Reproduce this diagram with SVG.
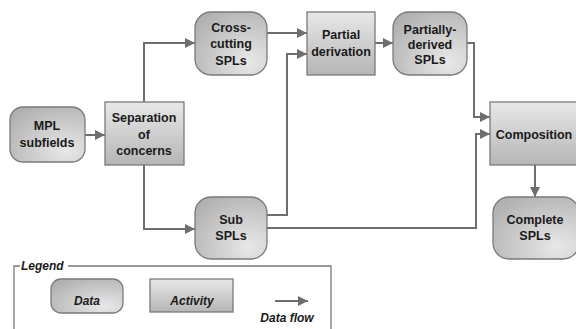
<svg xmlns="http://www.w3.org/2000/svg" width="576" height="329" viewBox="0 0 576 329">
<style>
.data{stroke:#7a7a7a;stroke-width:1.3;fill:url(#gData)}
.act{stroke:#7a7a7a;stroke-width:1.3;fill:url(#gAct)}
.t{font-family:"Liberation Sans",Arial,sans-serif;font-weight:bold;font-size:12.5px;fill:#1a1a1a;text-anchor:middle}
.lt{font-family:"Liberation Sans",Arial,sans-serif;font-weight:bold;font-style:italic;font-size:12px;fill:#1a1a1a}
.c{fill:none;stroke:#6e6e6e;stroke-width:2}
</style>
<defs>
<radialGradient id="gData" cx="0.75" cy="0.8" r="0.95">
<stop offset="0" stop-color="#e8e8e8"/>
<stop offset="1" stop-color="#b0b0b0"/>
</radialGradient>
<linearGradient id="gAct" x1="0" y1="0" x2="0" y2="1">
<stop offset="0" stop-color="#e8e8e8"/>
<stop offset="1" stop-color="#b5b5b5"/>
</linearGradient>
<marker id="ah" markerUnits="userSpaceOnUse" markerWidth="10" markerHeight="10" viewBox="0 0 10 10" refX="10" refY="5" orient="auto">
<path d="M0,0 L10,5 L0,10 Z" fill="#6e6e6e"/>
</marker>
</defs>
<rect width="576" height="329" fill="#ffffff"/>
<g id="connectors">
<path class="c" d="M85,135 L105,135" marker-end="url(#ah)"/>
<path class="c" d="M144,102 L144,43 L195,43" marker-end="url(#ah)"/>
<path class="c" d="M144,165 L144,229 L195,229" marker-end="url(#ah)"/>
<path class="c" d="M267,33 L307,33" marker-end="url(#ah)"/>
<path class="c" d="M267,215 L287,215 L287,54 L307,54" marker-end="url(#ah)"/>
<path class="c" d="M375,43 L393,43" marker-end="url(#ah)"/>
<path class="c" d="M467,43 L474,43 L474,117 L490,117" marker-end="url(#ah)"/>
<path class="c" d="M267,228 L476,228 L476,134 L490,134" marker-end="url(#ah)"/>
<path class="c" d="M535,165 L535,197" marker-end="url(#ah)"/>
</g>
<g id="mpl">
<rect class="data" x="10" y="107" width="75" height="55" rx="13"/>
<text class="t" x="47" y="130">MPL</text>
<text class="t" x="47" y="147">subfields</text>
</g>
<g id="separation">
<rect class="act" x="105" y="102" width="79" height="63"/>
<text class="t" x="144" y="122">Separation</text>
<text class="t" x="144" y="139">of</text>
<text class="t" x="144" y="155">concerns</text>
</g>
<g id="crosscutting">
<rect class="data" x="195" y="12" width="72" height="63" rx="16"/>
<text class="t" x="231" y="32">Cross-</text>
<text class="t" x="231" y="48">cutting</text>
<text class="t" x="231" y="65">SPLs</text>
</g>
<g id="subspls">
<rect class="data" x="195" y="197" width="72" height="62" rx="16"/>
<text class="t" x="231" y="224">Sub</text>
<text class="t" x="231" y="240">SPLs</text>
</g>
<g id="partialderivation">
<rect class="act" x="307" y="12" width="68" height="63"/>
<text class="t" x="341" y="39">Partial</text>
<text class="t" x="341" y="56">derivation</text>
</g>
<g id="partiallyderived">
<rect class="data" x="393" y="12" width="74" height="63" rx="16"/>
<text class="t" x="430" y="34">Partially-</text>
<text class="t" x="430" y="49">derived</text>
<text class="t" x="430" y="64">SPLs</text>
</g>
<g id="composition">
<rect class="act" x="490" y="102" width="88" height="63"/>
<text class="t" x="534" y="139">Composition</text>
</g>
<g id="complete">
<rect class="data" x="493" y="197" width="86" height="62" rx="16"/>
<text class="t" x="535" y="224">Complete</text>
<text class="t" x="535" y="240">SPLs</text>
</g>
<g id="legend">
<path d="M20,266 L14,266 L14,330 M68,266 L331,266 L331,330" fill="none" stroke="#7a7a7a" stroke-width="1.3"/>
<text class="lt" x="21" y="270">Legend</text>
<rect class="data" x="51" y="279" width="72" height="34" rx="10"/>
<text class="lt" x="87" y="305" text-anchor="middle">Data</text>
<rect class="act" x="150" y="279" width="83" height="33"/>
<text class="lt" x="192" y="305" text-anchor="middle">Activity</text>
<path class="c" d="M275,301 L308,301" marker-end="url(#ah)"/>
<text class="lt" x="287" y="322" text-anchor="middle">Data flow</text>
</g>
</svg>
